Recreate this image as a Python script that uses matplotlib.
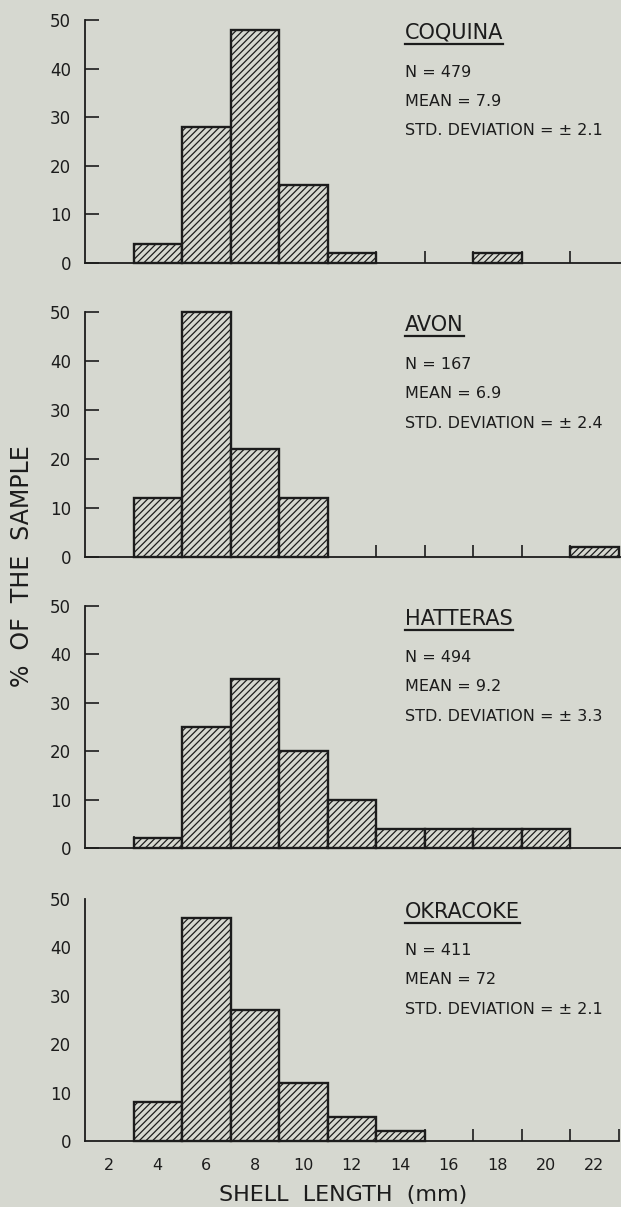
import matplotlib
matplotlib.use("Agg")
import matplotlib.pyplot as plt
from matplotlib.lines import Line2D

# shell length classes (mm), bin centres, 2 mm wide
bin_centers = [2, 4, 6, 8, 10, 12, 14, 16, 18, 20, 22]
y_ticks = [0, 10, 20, 30, 40, 50]

# % of sample in each class
coquina = [0, 4, 28, 48, 16, 2, 0, 0, 2, 0, 0]
avon = [0, 12, 50, 22, 12, 0, 0, 0, 0, 0, 2]
hatteras = [0, 2, 25, 35, 20, 10, 4, 4, 4, 4, 0]
okracoke = [0, 8, 46, 27, 12, 5, 2, 0, 0, 0, 0]

names = ["COQUINA", "AVON", "HATTERAS", "OKRACOKE"]
n_values = ["479", "167", "494", "411"]
means = ["7.9", "6.9", "9.2", "72"]
std_devs = ["2.1", "2.4", "3.3", "2.1"]

BG = "#d6d8d0"
INK = "#1c1c1c"
W, H = 621, 1207

plt.rcParams["font.family"] = ["DejaVu Sans"]
plt.rcParams["hatch.linewidth"] = 0.9
plt.rcParams["hatch.color"] = INK

fig = plt.figure(figsize=(W / 100, H / 100), dpi=100, facecolor=BG)

# pixel rows of the 50 and 0 gridlines for each panel
panel_rows = [(20, 263), (312, 557), (606, 848), (899, 1141)]
x_left, x_right = 85, 621
px_per_mm = 24.25
xmax = 1 + (x_right - x_left) / px_per_mm

series = [coquina, avon, hatteras, okracoke]
titles = []
for i, (vals, (top, bot)) in enumerate(zip(series, panel_rows)):
    ax = fig.add_axes([x_left / W, 1 - bot / H, (x_right - x_left) / W, (bot - top) / H])
    ax.set_facecolor("none")
    xs = [c for c, v in zip(bin_centers, vals) if v > 0]
    hs = [v for v in vals if v > 0]
    ax.bar(xs, hs, width=2, facecolor=BG, edgecolor=INK, linewidth=1.7,
           hatch="/////", clip_on=False, zorder=3)
    ax.set_xlim(1, xmax)
    ax.set_ylim(0, 50)
    for s in ["top", "right"]:
        ax.spines[s].set_visible(False)
    ax.spines["left"].set_linewidth(1.3)
    ax.spines["bottom"].set_linewidth(1.3)
    ax.spines["left"].set_color(INK)
    ax.spines["bottom"].set_color(INK)
    ax.spines["left"].set_bounds(0, 50)

    last = i == len(series) - 1
    minor = list(range(3, 24 if last else 22, 2))
    ax.set_xticks(minor, minor=True)
    ax.tick_params(axis="x", which="minor", direction="in", length=9, width=1.2, color=INK)
    ax.set_xticks(bin_centers)
    if last:
        ax.spines["bottom"].set_bounds(1, 23)
        ax.set_xticklabels([str(c) for c in bin_centers])
        ax.tick_params(axis="x", which="major", length=0, pad=12, labelsize=11.5, labelcolor=INK)
    else:
        ax.tick_params(axis="x", which="major", length=0, labelbottom=False)

    ax.set_yticks(y_ticks)
    ax.set_yticklabels([str(t) for t in y_ticks])
    ax.tick_params(axis="y", direction="in", length=0 if last else 10, width=1.2,
                   color=INK, pad=10, labelsize=12, labelcolor=INK)

    t = ax.text(14.2, 47.4, names[i], fontsize=15, color=INK, va="center", ha="left")
    titles.append(t)
    ax.text(14.2, 39.3, "N = " + n_values[i], fontsize=11.5, color=INK, va="center")
    ax.text(14.2, 33.3, "MEAN = " + means[i], fontsize=11.5, color=INK, va="center")
    ax.text(14.2, 27.2, "STD. DEVIATION = \u00b1 " + std_devs[i], fontsize=11.5,
            color=INK, va="center")

fig.text(22 / W, 1 - 566 / H, "%  OF  THE  SAMPLE", rotation=90, fontsize=17,
         color=INK, ha="center", va="center")
fig.text(343 / W, 1 - 1195 / H, "SHELL  LENGTH  (mm)", fontsize=16,
         color=INK, ha="center", va="center")

# underline the station names
fig.canvas.draw()
renderer = fig.canvas.get_renderer()
inv = fig.transFigure.inverted()
for t in titles:
    bb = t.get_window_extent(renderer)
    (x0, y0), (x1, _) = inv.transform([(bb.x0, bb.y0 - 1), (bb.x1, bb.y0 - 1)])
    fig.add_artist(Line2D([x0, x1], [y0, y0], transform=fig.transFigure,
                          color=INK, linewidth=1.6))

fig.savefig("out.png", dpi=100, facecolor=BG)
